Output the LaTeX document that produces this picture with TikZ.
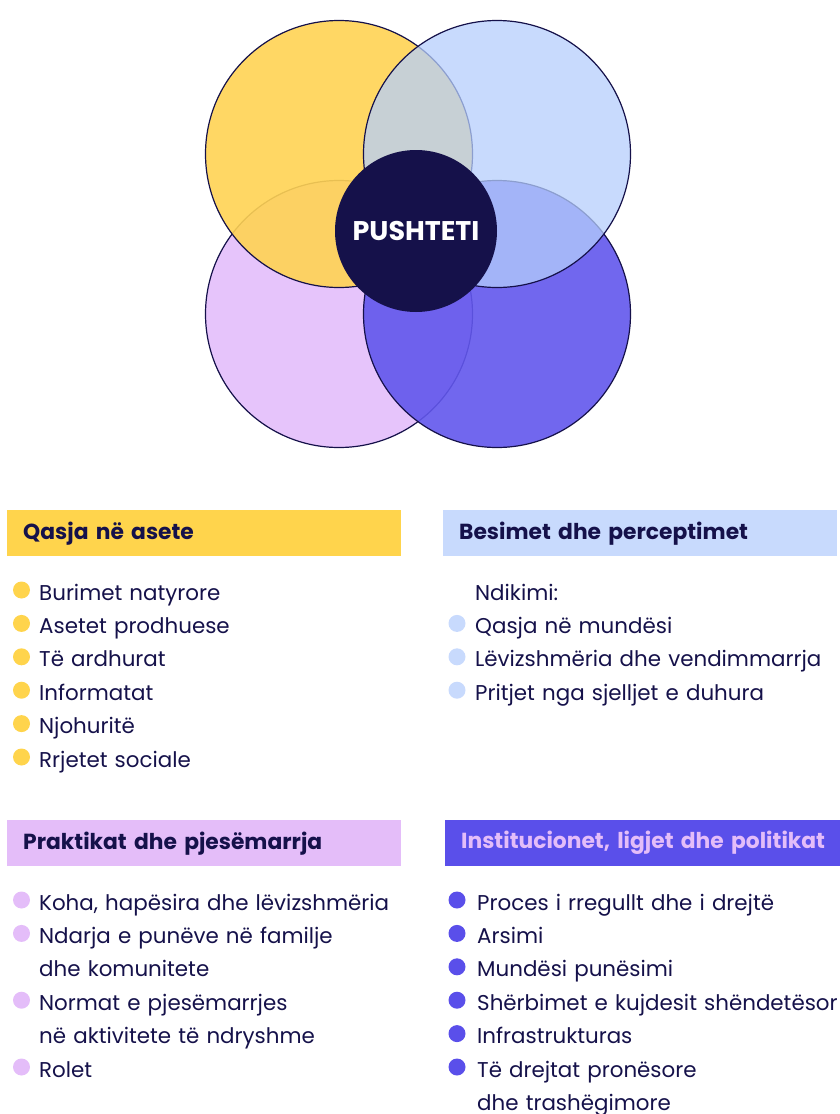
\documentclass[tikz,border=0pt]{standalone}
\usepackage{fontspec}
\setmainfont{Poppins}
\usetikzlibrary{positioning}

\definecolor{navy}{HTML}{15114A}
\definecolor{yel}{HTML}{FFD353}
\definecolor{yelhdr}{HTML}{FFD44C}
\definecolor{sky}{HTML}{B5CEFC}
\definecolor{skyhdr}{HTML}{C8DAFD}
\definecolor{lilac}{HTML}{E6C4FB}
\definecolor{lilachdr}{HTML}{E4BDF9}
\definecolor{violet}{HTML}{6257EC}
\definecolor{violethdr}{HTML}{5A4FEA}

\tikzset{
	ring/.style={circle, minimum size=267pt, inner sep=0pt, draw=navy, line width=1.2pt},
	hdr/.style={anchor=north west, minimum height=46pt, inner xsep=16pt, inner ysep=0pt, text width=362pt, align=left, text=navy, font=\bfseries\fontsize{21.8}{24}\selectfont},
	dot/.style={circle, inner sep=0pt, minimum size=17pt},
	item/.style={anchor=base west, inner sep=0pt, text width=400pt, align=left, text=navy, font=\fontsize{21.4}{33.4}\selectfont}
}

\begin{document}
\begin{tikzpicture}[x=1pt, y=-1pt]
	\useasboundingbox (0,0) rectangle (840,1114);

	% the four circles and the centre
	\node[ring, fill=lilac] (pr) at (339,314) {};
	\node[ring, fill=violet, fill opacity=0.9] (in) at (497,314) {};
	\node[ring, fill=yel, fill opacity=0.9] (qa) at (339,154) {};
	\node[ring, fill=sky, fill opacity=0.75] (bp) at (497,154) {};
	\node[circle, minimum size=162pt, fill=navy, text=white, font=\bfseries\fontsize{27}{27}\selectfont] (pu) at (416,231) {PUSHTETI};

	% headers
	\node[hdr, fill=yelhdr] (h1) at (7,510) {Qasja në asete};
	\node[hdr, fill=skyhdr] (h2) at (443,510) {Besimet dhe perceptimet};
	\node[hdr, fill=lilachdr] (h3) at (7,820) {Praktikat dhe pjesëmarrja};
	\node[hdr, fill=violethdr, text=lilachdr, text width=440pt] (h4) at (445,820) {Institucionet, ligjet dhe politikat};

	% Qasja ne asete
	\foreach \y/\txt [count=\i] in {600/Burimet natyrore, 633.4/Asetet prodhuese, 666.8/Të ardhurat, 700.2/Informatat, 733.6/Njohuritë, 767/Rrjetet sociale}{
		\node[dot, fill=yelhdr] (d1\i) at (21.5,\y-10) {};
		\node[item] (a\i) at (39,\y) {\txt};
	}

	% Besimet dhe perceptimet
	\node[item] (b0) at (475,600) {Ndikimi:};
	\foreach \y/\txt [count=\i] in {633.4/Qasja në mundësi, 666.8/Lëvizshmëria dhe vendimmarrja, 700.2/Pritjet nga sjelljet e duhura}{
		\node[dot, fill=skyhdr] (d2\i) at (457,\y-10) {};
		\node[item] (b\i) at (475,\y) {\txt};
	}

	% Praktikat dhe pjesemarrja
	\foreach \y/\txt [count=\i] in {910/{Koha, hapësira dhe lëvizshmëria}, 943.4/{Ndarja e punëve në familje\\dhe komunitete}, 1010.2/{Normat e pjesëmarrjes\\në aktivitete të ndryshme}, 1077/Rolet}{
		\node[dot, fill=lilachdr] (d3\i) at (21.5,\y-10) {};
		\node[item] (c\i) at (39,\y) {\txt};
	}

	% Institucionet, ligjet dhe politikat
	\foreach \y/\txt [count=\i] in {910/Proces i rregullt dhe i drejtë, 943.4/Arsimi, 976.8/Mundësi punësimi, 1010.2/Shërbimet e kujdesit shëndetësor, 1043.6/Infrastrukturas, 1077/{Të drejtat pronësore\\dhe trashëgimore}}{
		\node[dot, fill=violethdr] (d4\i) at (457,\y-10) {};
		\node[item] (e\i) at (477,\y) {\txt};
	}

\end{tikzpicture}
\end{document}
